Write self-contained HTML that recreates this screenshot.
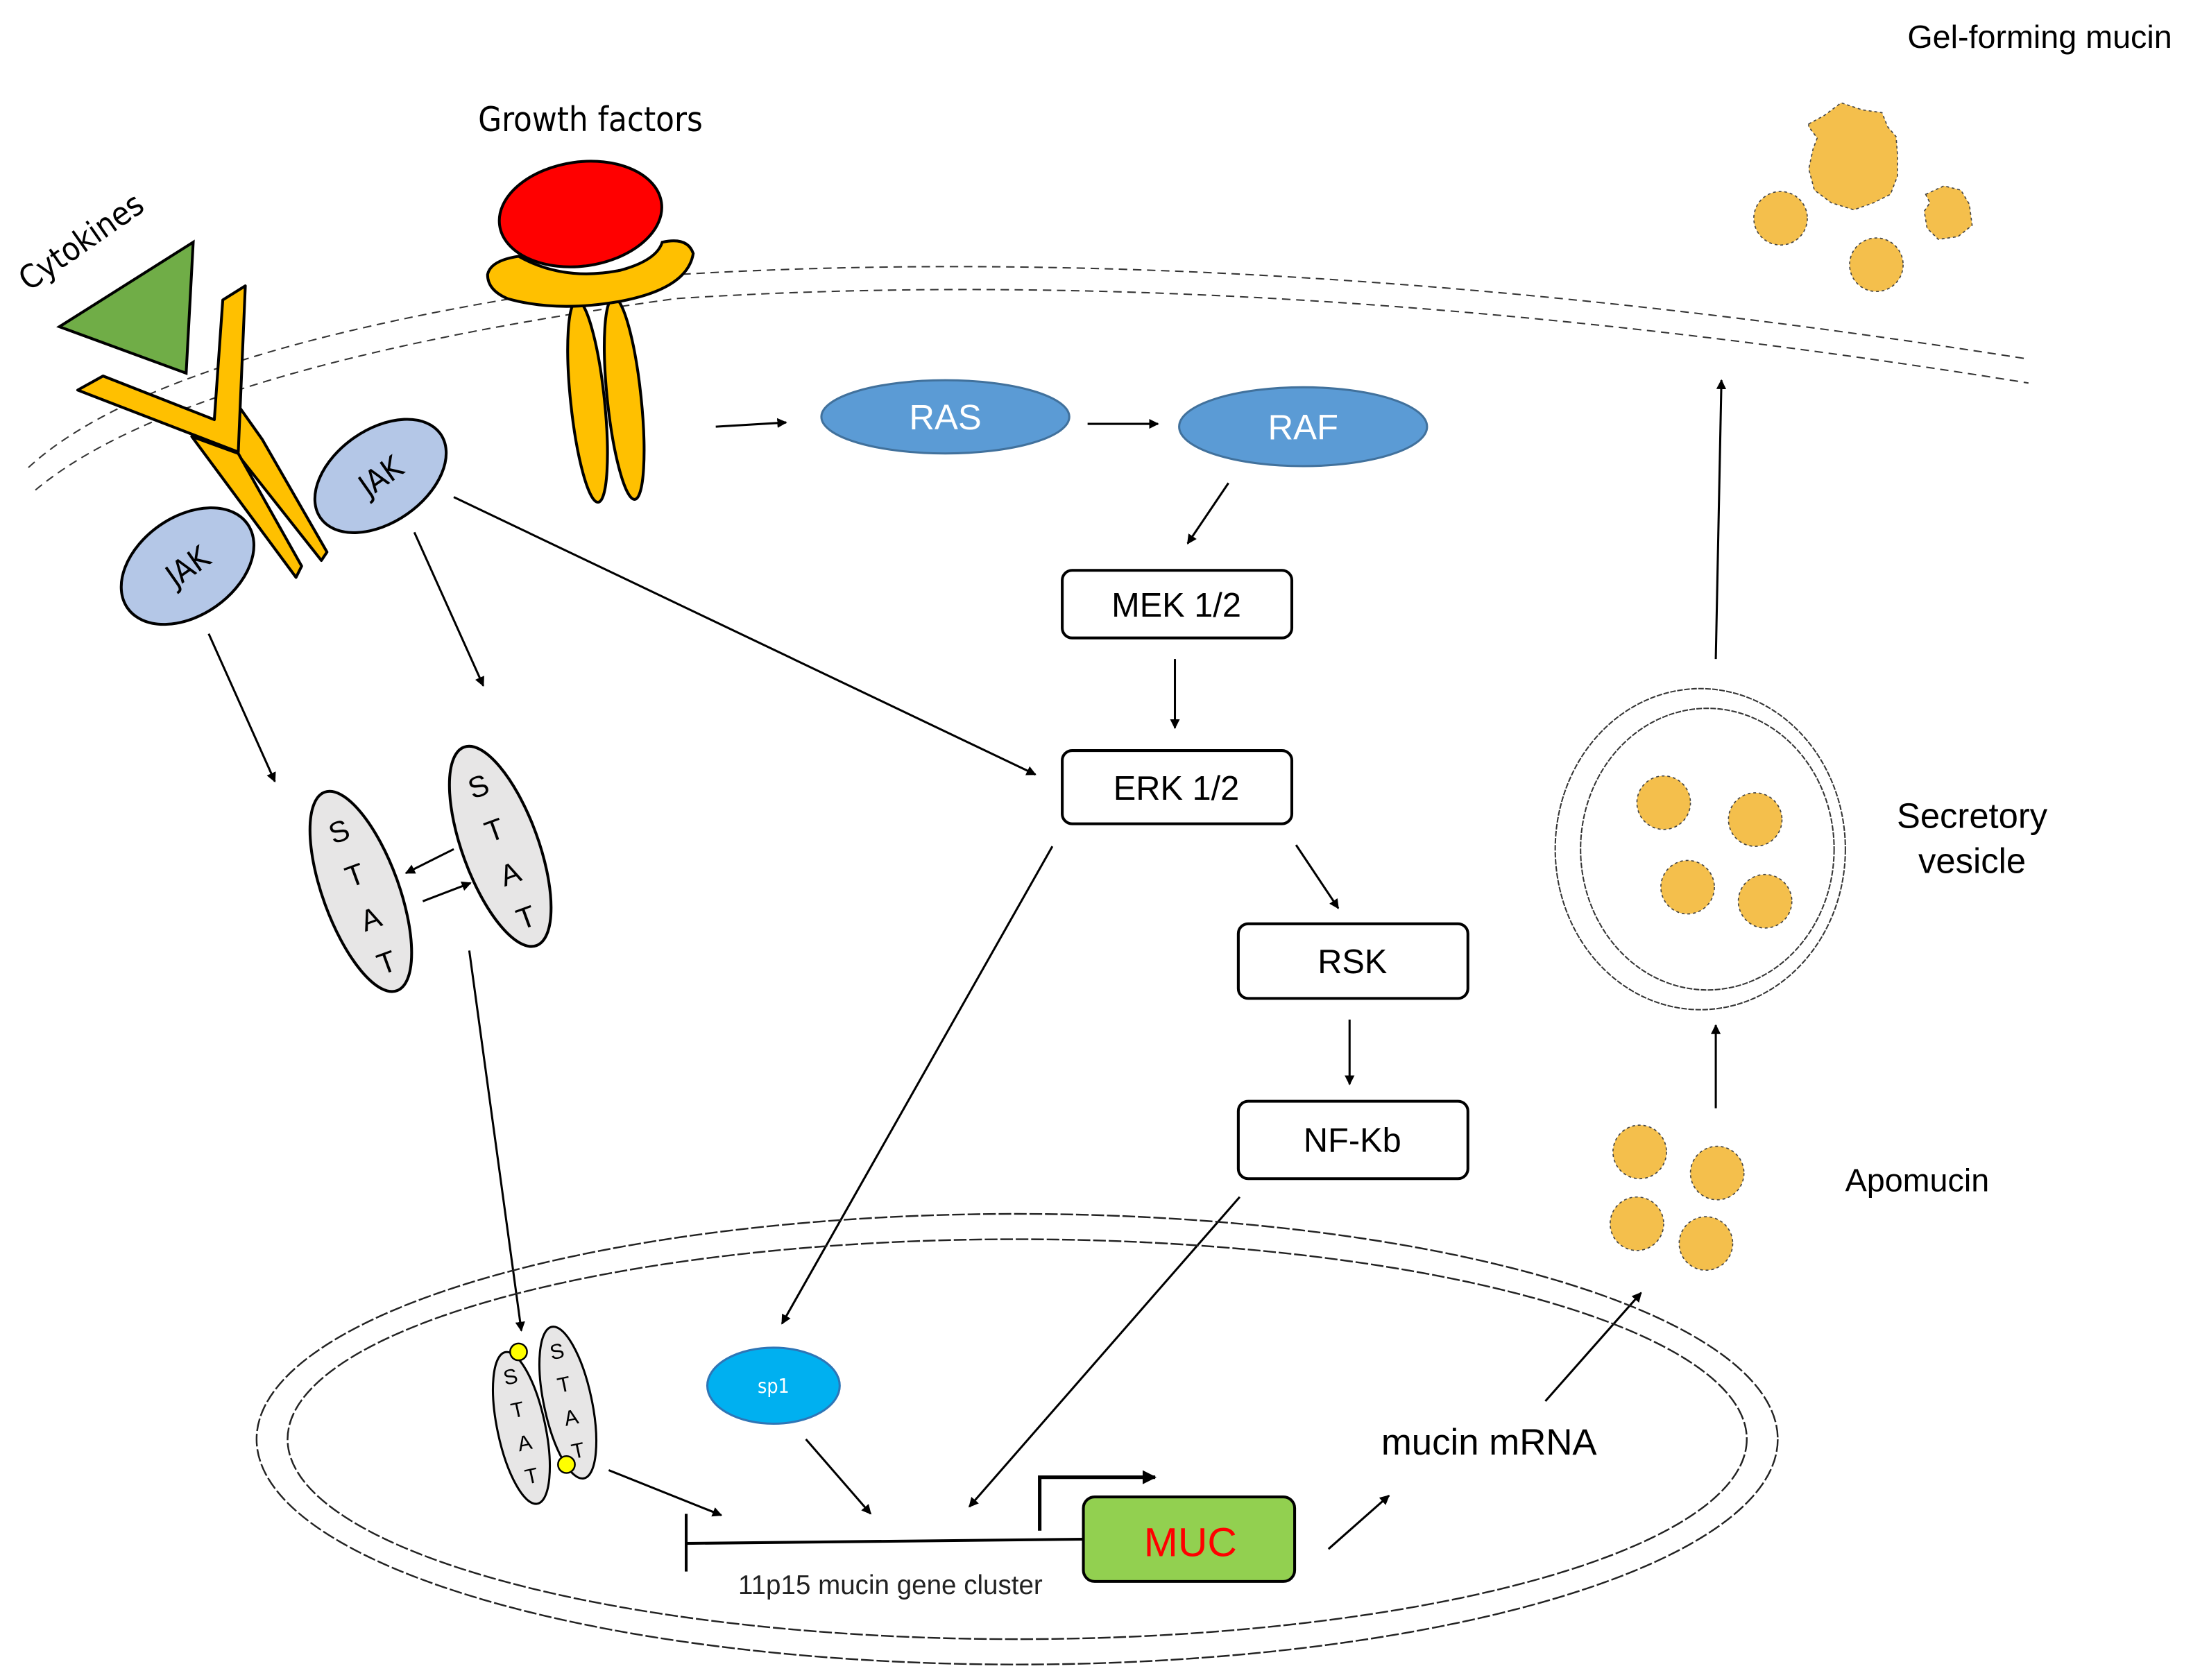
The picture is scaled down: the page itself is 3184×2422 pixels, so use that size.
<!DOCTYPE html>
<html><head><meta charset="utf-8"><style>
html,body{margin:0;padding:0;background:#fff;}
svg{display:block;}
text{font-family:"Liberation Sans",sans-serif;}
.n{font-family:"DejaVu Sans Condensed","Liberation Sans Narrow","Liberation Sans",sans-serif;}
</style></head><body>
<svg width="3184" height="2422" viewBox="0 0 1568 1193" xmlns="http://www.w3.org/2000/svg">
<defs>
<marker id="a" viewBox="0 0 10 10" refX="9" refY="5" markerWidth="7" markerHeight="7" markerUnits="userSpaceOnUse" orient="auto"><path d="M0,0 L10,5 L0,10 z" fill="#000"/></marker>
<marker id="b" viewBox="0 0 10 10" refX="9" refY="5" markerWidth="10" markerHeight="10" markerUnits="userSpaceOnUse" orient="auto"><path d="M0,0 L10,5 L0,10 z" fill="#000"/></marker>
</defs>
<rect width="1568" height="1193" fill="#fff"/>

<!-- membrane -->
<path d="M20,332 Q120,240 480,195 Q900,170 1440,255" fill="none" stroke="#333" stroke-width="1" stroke-dasharray="6,4"/>
<path d="M25,348 Q130,260 480,212 Q900,185 1440,272" fill="none" stroke="#333" stroke-width="1" stroke-dasharray="6,4"/>

<!-- texts -->
<text x="419" y="93" font-size="24" text-anchor="middle" class="n">Growth factors</text>
<text x="62" y="178" font-size="23" text-anchor="middle" transform="rotate(-35 62 178)" class="n">Cytokines</text>
<text x="1448" y="34" font-size="23" text-anchor="middle">Gel-forming mucin</text>

<!-- cytokine -->
<polygon points="42,232 137,172 132,265" fill="#70ad47" stroke="#000" stroke-width="2"/>
<!-- Y receptor -->
<path d="M169,288 L186,312 L232,392 L228,398 L168,322 Z" fill="#ffc000" stroke="#000" stroke-width="2" stroke-linejoin="round"/>
<path d="M136,310 L169,322 L214,402 L210,410 Z" fill="#ffc000" stroke="#000" stroke-width="2" stroke-linejoin="round"/>
<path d="M55,277 L73,267 L152,298 L158,213 L174,203 L169,321 Z" fill="#ffc000" stroke="#000" stroke-width="2" stroke-linejoin="round"/>

<!-- JAKs -->
<g transform="rotate(-35 270 338)"><ellipse cx="270" cy="338" rx="52" ry="33" fill="#b4c7e7" stroke="#000" stroke-width="2"/><text x="270" y="346" font-size="22" text-anchor="middle" class="n">JAK</text></g>
<g transform="rotate(-35 133 402)"><ellipse cx="133" cy="402" rx="52" ry="35" fill="#b4c7e7" stroke="#000" stroke-width="2"/><text x="133" y="410" font-size="22" text-anchor="middle" class="n">JAK</text></g>

<!-- growth factor receptor -->
<g transform="rotate(-6 417 285)"><ellipse cx="417" cy="285" rx="12" ry="72" fill="#ffc000" stroke="#000" stroke-width="2"/></g>
<g transform="rotate(-6 443 283)"><ellipse cx="443" cy="283" rx="12" ry="72" fill="#ffc000" stroke="#000" stroke-width="2"/></g>
<path d="M346,195 Q348,185 368,182 Q400,200 440,192 Q466,185 470,172 Q488,168 492,180 Q488,205 440,214 Q395,222 360,212 Q346,206 346,195 Z" fill="#ffc000" stroke="#000" stroke-width="2"/>
<g transform="rotate(-8 412 152)"><ellipse cx="412" cy="152" rx="58" ry="37" fill="#f00" stroke="#000" stroke-width="2"/></g>

<!-- RAS / RAF -->
<ellipse cx="671" cy="296" rx="88" ry="26" fill="#5b9bd5" stroke="#41719c" stroke-width="1.5"/>
<text x="671" y="305" font-size="25" fill="#fff" text-anchor="middle">RAS</text>
<ellipse cx="925" cy="303" rx="88" ry="28" fill="#5b9bd5" stroke="#41719c" stroke-width="1.5"/>
<text x="925" y="312" font-size="25" fill="#fff" text-anchor="middle">RAF</text>

<g stroke="#000" stroke-width="1.5" fill="none" marker-end="url(#a)">
<line x1="508" y1="303" x2="558" y2="300"/>
<line x1="772" y1="301" x2="822" y2="301"/>
<line x1="872" y1="343" x2="843" y2="386"/>
<line x1="834" y1="468" x2="834" y2="517"/>
<line x1="920" y1="600" x2="950" y2="645"/>
<line x1="958" y1="724" x2="958" y2="770"/>
<line x1="322" y1="353" x2="735" y2="550"/>
<line x1="294" y1="378" x2="343" y2="487"/>
<line x1="148" y1="450" x2="195" y2="555"/>
<line x1="322" y1="603" x2="288" y2="620"/>
<line x1="300" y1="640" x2="334" y2="627"/>
<line x1="333" y1="675" x2="370" y2="945"/>
<line x1="747" y1="601" x2="555" y2="940"/>
<line x1="880" y1="850" x2="688" y2="1070"/>
<line x1="572" y1="1022" x2="618" y2="1075"/>
<line x1="432" y1="1044" x2="512" y2="1076"/>
<line x1="943" y1="1100" x2="986" y2="1062"/>
<line x1="1097" y1="995" x2="1165" y2="918"/>
<line x1="1218" y1="787" x2="1218" y2="728"/>
<line x1="1218" y1="468" x2="1222" y2="270"/>
</g>

<!-- boxes -->
<g fill="#fff" stroke="#000" stroke-width="2">
<rect x="754" y="405" width="163" height="48" rx="7"/>
<rect x="754" y="533" width="163" height="52" rx="7"/>
<rect x="879" y="656" width="163" height="53" rx="7"/>
<rect x="879" y="782" width="163" height="55" rx="7"/>
</g>
<g font-size="24" text-anchor="middle" class="n">
<text x="835" y="438">MEK 1/2</text>
<text x="835" y="568">ERK 1/2</text>
<text x="960" y="691">RSK</text>
<text x="960" y="818">NF-Kb</text>
</g>

<!-- STATs -->
<g transform="rotate(-20 256 633)"><ellipse cx="256" cy="633" rx="27" ry="75" fill="#e7e6e6" stroke="#000" stroke-width="2"/>
<g font-size="21" text-anchor="middle" class="n"><text x="256" y="595">S</text><text x="256" y="628">T</text><text x="256" y="661">A</text><text x="256" y="694">T</text></g></g>
<g transform="rotate(-20 355 601)"><ellipse cx="355" cy="601" rx="27" ry="75" fill="#e7e6e6" stroke="#000" stroke-width="2"/>
<g font-size="21" text-anchor="middle" class="n"><text x="355" y="563">S</text><text x="355" y="596">T</text><text x="355" y="629">A</text><text x="355" y="662">T</text></g></g>

<!-- nucleus -->
<ellipse cx="722" cy="1022" rx="540" ry="160" fill="none" stroke="#222" stroke-width="1.2" stroke-dasharray="9,2"/>
<ellipse cx="722" cy="1022" rx="518" ry="142" fill="none" stroke="#222" stroke-width="1.2" stroke-dasharray="9,2"/>

<!-- STAT dimer in nucleus -->
<g transform="rotate(-12 370 1014)"><ellipse cx="370" cy="1014" rx="17" ry="55" fill="#e7e6e6" stroke="#000" stroke-width="1.5"/>
<g font-size="15" text-anchor="middle" class="n"><text x="370" y="982">S</text><text x="370" y="1006">T</text><text x="370" y="1030">A</text><text x="370" y="1054">T</text></g></g>
<g transform="rotate(-12 403 996)"><ellipse cx="403" cy="996" rx="17" ry="55" fill="#e7e6e6" stroke="#000" stroke-width="1.5"/>
<g font-size="15" text-anchor="middle" class="n"><text x="403" y="964">S</text><text x="403" y="988">T</text><text x="403" y="1012">A</text><text x="403" y="1036">T</text></g></g>
<circle cx="368" cy="960" r="6" fill="#ffff00" stroke="#000" stroke-width="1.2"/>
<circle cx="402" cy="1040" r="6" fill="#ffff00" stroke="#000" stroke-width="1.2"/>

<!-- sp1 -->
<ellipse cx="549" cy="984" rx="47" ry="27" fill="#00b0f0" stroke="#2e75b6" stroke-width="1.5"/>
<text x="549" y="989" font-size="14" fill="#fff" text-anchor="middle" class="n">sp1</text>

<!-- gene -->
<line x1="487" y1="1096" x2="770" y2="1093" stroke="#000" stroke-width="2"/>
<line x1="487" y1="1075" x2="487" y2="1116" stroke="#000" stroke-width="2"/>
<polyline points="738,1087 738,1049 820,1049" fill="none" stroke="#000" stroke-width="2.5" marker-end="url(#b)"/>
<rect x="769" y="1063" width="150" height="60" rx="8" fill="#92d050" stroke="#000" stroke-width="2"/>
<text x="845" y="1105" font-size="29" fill="#f00" text-anchor="middle">MUC</text>
<text x="632" y="1132" font-size="19" fill="#222" text-anchor="middle">11p15 mucin gene cluster</text>
<text x="1057" y="1033" font-size="26" text-anchor="middle">mucin mRNA</text>

<!-- apomucin -->
<g fill="#f4bf4c" stroke="#444" stroke-width="0.8" stroke-dasharray="2,2">
<circle cx="1164" cy="818" r="19"/><circle cx="1219" cy="833" r="19"/>
<circle cx="1162" cy="869" r="19"/><circle cx="1211" cy="883" r="19"/>
<circle cx="1181" cy="570" r="19"/><circle cx="1246" cy="582" r="19"/>
<circle cx="1198" cy="630" r="19"/><circle cx="1253" cy="640" r="19"/>
<circle cx="1264" cy="155" r="19"/><circle cx="1332" cy="188" r="19"/>
<path d="M1284,88 L1295,82 L1307,73 L1322,78 L1336,80 L1340,90 L1346,97 L1347,110 L1347,125 L1342,138 L1330,144 L1316,149 L1300,144 L1288,135 L1284,120 L1287,106 L1290,98 L1284,90 Z"/>
<path d="M1367,138 L1380,132 L1392,135 L1398,145 L1400,160 L1390,168 L1376,170 L1368,162 L1366,150 L1370,144 Z"/>
</g>
<text x="1361" y="846" font-size="23" text-anchor="middle">Apomucin</text>

<!-- vesicle -->
<ellipse cx="1207" cy="603" rx="103" ry="114" fill="none" stroke="#333" stroke-width="1" stroke-dasharray="4,1"/>
<ellipse cx="1212" cy="603" rx="90" ry="100" fill="none" stroke="#333" stroke-width="1" stroke-dasharray="4,1"/>
<text x="1400" y="588" font-size="25" text-anchor="middle">Secretory</text>
<text x="1400" y="620" font-size="25" text-anchor="middle">vesicle</text>
</svg>
</body></html>
